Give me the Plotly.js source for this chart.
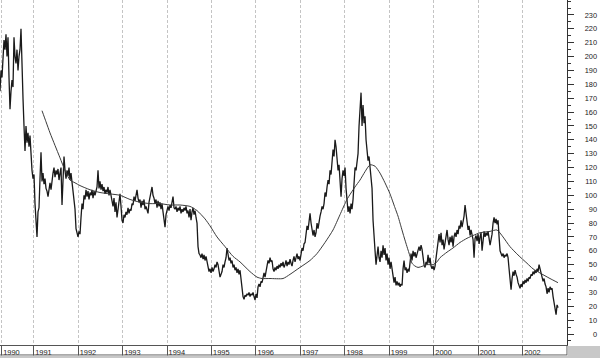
<!DOCTYPE html>
<html>
<head>
<meta charset="utf-8">
<script src="https://cdn.plot.ly/plotly-3.0.1.min.js"></script>
<style>
html,body{margin:0;padding:0;background:#fff;}
#chart{width:600px;height:358px;}
</style>
</head>
<body>
<div id="chart"></div>
<script>
// Weekly-ish price series (one reading per ~0.0225 year)
const startYear = 1990.242;
const stepYears = 0.0225;
const price = [
175,190,185,200,212,205,216,200,214,185,
162,175,183,178,214,200,195,205,190,200,
205,220,180,170,150,132,150,138,145,135,
143,128,118,112,115,94,85,70,88,91,
112,131,110,116,108,112,105,103,99,106,
109,104,112,116,120,113,118,115,119,111,
116,120,93,115,128,118,112,118,114,120,
111,116,110,105,98,90,76,72,70,74,
72,84,94,90,100,97,104,99,103,97,
102,100,104,98,103,100,104,106,118,105,
110,104,108,103,106,101,104,102,106,100,
104,98,96,92,98,88,95,84,90,99,
101,92,82,80,86,84,88,86,91,87,
90,89,94,93,99,96,102,104,98,95,
97,91,96,93,97,90,92,89,87,95,
98,101,106,100,98,94,97,91,96,92,
95,90,94,88,83,77,86,90,92,89,
93,91,95,99,91,90,92,88,91,89,
92,87,90,88,91,89,92,87,89,84,
90,82,88,91,86,89,84,80,63,58,
57,55,58,54,57,53,56,52,48,45,
47,44,48,45,47,50,48,52,50,46,
41,43,45,50,48,52,55,62,58,53,
55,51,53,48,50,46,48,44,47,43,
46,40,32,27,25,28,27,29,28,30,
27,29,28,30,27,24.5,29,26,34,36,
34,38,37,42,44,41,46,50,53,51,
55,52,53,47,45,48,46,49,47,50,
48,51,49,52,48,50,53,49,52,50,
54,51,49,53,56,52,55,58,54,56,
53,58,62,60,65,66,72,78,75,84,
87,80,74,71,75,70,73,80,76,82,
85,88,92,90,94,102,99,106,111,108,
118,115,125,133,128,140,135,124,118,122,
110,99,112,118,114,120,105,95,88,92,
87,94,90,97,113,120,118,125,130,150,
160,174,150,165,152,157,140,133,125,128,
118,113,105,82,65,60,50,56,63,55,
52,60,55,64,57,62,53,58,50,55,
47,52,46,40,37,41,35,38,35,37,
34,36,35,47,53,46,48,44,47,45,
55,58,53,60,56,59,55,58,61,63,
60,64,61,53,50,48,52,50,57,51,
55,49,47,49,46,49,55,62,67,72,
66,73,64,68,61,65,70,75,68,64,
70,66,71,63,70,73,70,75,72,78,
76,82,77,80,85,93,88,82,75,78,
71,75,70,68,55,69,71,67,72,65,
70,73,60,71,74,70,73,71,74,69,
64,68,72,80,84,80,83,79,82,70,
60,58,56,58,55,57,56,58,55,47,
38,32,40,45,42,46,43,41,37,35,
33,36,34,38,36,39,37,40,38,41,
40,43,42,45,43,46,44,47,45,50,
46,44,41,38,40,36,34,29,33,30,
34,32,33,27,22,17,14,21,19
];

// Moving average line
const maYears = [1991.187,1991.277,1991.367,1991.479,1991.592,1991.704,1991.817,1991.929,1992.042,1992.267,
1992.492,1992.717,1992.942,1993.167,1993.392,1993.617,1993.842,1994.066,1994.291,1994.516,
1994.674,1994.854,1994.966,1995.124,1995.304,1995.484,1995.641,1995.866,1996.024,1996.136,
1996.316,1996.609,1996.766,1996.991,1997.216,1997.374,1997.554,1997.734,1997.891,1998.048,
1998.228,1998.341,1998.453,1998.566,1998.678,1998.791,1998.903,1999.016,1999.128,1999.196,
1999.241,1999.331,1999.398,1999.466,1999.511,1999.578,1999.646,1999.758,1999.848,1999.983,
2000.073,2000.141,2000.298,2000.433,2000.591,2000.748,2000.883,2001.041,2001.266,2001.423,
2001.558,2001.715,2001.895,2002.098,2002.233,2002.390,2002.615,2002.795];
const maValues = [161,153,145,136,127,118,111,109,107,104,
102,101,100,97,95,94,94,93,93,92,
89,83,78,70,63,56,52,45,41,40,
40,40,43,48,53,58,66,75,86,97,
106,111,117,122,121,116,109,101,91,85,
80,70,63,56,51,49,48,49,50,50,
52,55,59,62,66,69,71,73,74,75,
70,63,57,51,47,44,40,37];

// Year axis
const yearLabels = ['1990','1991','1992','1993','1994','1995','1996','1997','1998','1999','2000','2001','2002'];
const yearStarts = [1990.28,1991,1992,1993,1994,1995,1996,1997,1998,1999,2000,2001,2002];
const labelOffset = 0.22;

// Value axis
const yTickVals = [0,10,20,30,40,50,60,70,80,90,100,110,120,130,140,150,160,170,180,190,200,210,220,230,240];
const yTickText = ['0','10','20','30','40','50','60','70','80','90','100','110','120','130','140','150','160','170','180','190','200','210','220','230',''];

const priceX = price.map((_, i) => startYear + i * stepYears);

const FONT = 'Liberation Sans, Arial, sans-serif';
const TXT = '#1a1a1a';
const xDomainEnd = 567/600;
const H = 345; // plot height in px

const traces = [
  {x: priceX, y: price, type: 'scatter', mode: 'lines',
   line: {color: '#1a1a1a', width: 1.3}, hoverinfo: 'skip'},
  {x: maYears, y: maValues, type: 'scatter', mode: 'lines',
   line: {color: '#3a3a3a', width: 1, shape: 'spline', smoothing: 0.6}, hoverinfo: 'skip'},
  {x: [], y: [], yaxis: 'y2', type: 'scatter', mode: 'lines', hoverinfo: 'skip'}
];

const layout = {
  width: 600, height: 358,
  margin: {l: 0, r: 0, t: 0, b: 13, pad: 0},
  paper_bgcolor: '#ffffff', plot_bgcolor: '#ffffff',
  showlegend: false,
  font: {family: FONT, size: 7.4, color: TXT},
  xaxis: {
    domain: [0, xDomainEnd],
    range: [1990.242, 2002.998],
    type: 'linear',
    tickmode: 'array',
    tickvals: yearStarts.map(v => v + labelOffset),
    ticktext: yearLabels,
    ticks: '', showgrid: false, zeroline: false,
    showline: true, linecolor: '#555', linewidth: 1,
    color: TXT,
    tickfont: {family: FONT, size: 7.4, color: TXT},
    minor: {tickmode: 'array', tickvals: yearStarts, ticks: 'outside', ticklen: 10,
            tickcolor: '#555', tickwidth: 1,
            showgrid: true, gridcolor: '#c4c4c4', griddash: '3px,2px', gridwidth: 1},
    fixedrange: true
  },
  yaxis: {
    side: 'right', anchor: 'x',
    range: [-7.93, 240.8],
    tickmode: 'array', tickvals: yTickVals, ticktext: yTickText,
    showticklabels: false,
    ticks: 'outside', ticklen: 6, tickcolor: '#333', tickwidth: 1,
    minor: {dtick: 5, tick0: 0, ticks: 'outside', ticklen: 3, tickcolor: '#333', showgrid: false},
    showgrid: false, zeroline: false,
    showline: true, linecolor: '#333', linewidth: 1,
    fixedrange: true
  },
  yaxis2: {
    overlaying: 'y', side: 'left', anchor: 'free', position: 597/600,
    range: [-7.93, 240.8],
    tickmode: 'array', tickvals: yTickVals, ticktext: yTickText,
    ticks: '', showgrid: false, zeroline: false, showline: false,
    color: TXT,
    tickfont: {family: FONT, size: 7.4, color: TXT},
    fixedrange: true
  },
  shapes: [
    {type: 'line', xref: 'paper', yref: 'paper', x0: 0, x1: xDomainEnd, y0: -10/H, y1: -10/H,
     line: {color: '#555', width: 1}},
    {type: 'line', xref: 'paper', yref: 'paper', x0: xDomainEnd, x1: xDomainEnd, y0: 0, y1: -10/H,
     line: {color: '#555', width: 1}},
    {type: 'rect', xref: 'paper', yref: 'paper', x0: 0, x1: 1, y0: -13.5/H, y1: -10.5/H,
     fillcolor: '#c8c8c8', line: {width: 0}},
    {type: 'rect', xref: 'paper', yref: 'paper', x0: xDomainEnd + 0.5/600, x1: 1, y0: -13.5/H, y1: -1/H,
     fillcolor: '#c8c8c8', line: {width: 0}}
  ],
  hovermode: false
};

Plotly.newPlot('chart', traces, layout, {staticPlot: true, displayModeBar: false});
</script>
</body>
</html>
